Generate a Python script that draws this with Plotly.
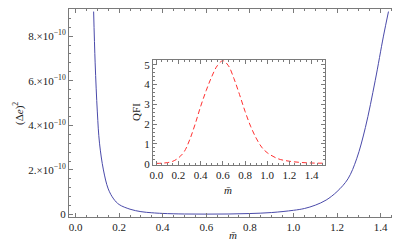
import plotly.graph_objects as go

# Main curve: (Δe)^2 vs m̄  (values in units of 1e-10)
m_main = [0.083, 0.09, 0.10, 0.11, 0.128, 0.15, 0.175, 0.20, 0.25, 0.30, 0.35, 0.40, 0.50,
          0.60, 0.70, 0.80, 0.90, 1.00, 1.05, 1.10, 1.15, 1.20, 1.25, 1.29, 1.33, 1.375,
          1.413, 1.436]
de2_e10 = [9.1, 6.8, 4.6, 3.2, 2.0, 1.15, 0.7, 0.45, 0.24, 0.13, 0.08, 0.05, 0.025,
           0.02, 0.025, 0.045, 0.09, 0.19, 0.27, 0.42, 0.65, 1.03, 1.6, 2.5, 3.9, 6.0,
           8.0, 9.1]

# Inset: QFI vs m̄
m_qfi = [0.0, 0.05, 0.1, 0.15, 0.2, 0.25, 0.3, 0.35, 0.4, 0.45, 0.5, 0.55, 0.6, 0.65,
         0.7, 0.75, 0.8, 0.85, 0.9, 0.95, 1.0, 1.1, 1.2, 1.3, 1.4, 1.5]
qfi = [0.02, 0.03, 0.06, 0.13, 0.3, 0.6, 1.2, 2.0, 2.9, 3.7, 4.4, 4.95, 5.2, 4.95,
       4.3, 3.5, 2.65, 1.9, 1.3, 0.84, 0.56, 0.25, 0.13, 0.07, 0.04, 0.03]

main_ytickvals = [0, 2e-10, 4e-10, 6e-10, 8e-10]
main_yticktext = ["0", "2.×10<sup>−10</sup>", "4.×10<sup>−10</sup>",
                  "6.×10<sup>−10</sup>", "8.×10<sup>−10</sup>"]

FONT = "Liberation Serif"
FRAME = "#7a7a7a"
TXT = "#222"

fig = go.Figure()
fig.add_trace(go.Scatter(x=m_main, y=[v * 1e-10 for v in de2_e10], mode="lines",
                         line=dict(color="#4a4aaa", width=1, shape="spline"),
                         xaxis="x", yaxis="y", showlegend=False))
fig.add_trace(go.Scatter(x=m_qfi, y=qfi, mode="lines",
                         line=dict(color="#ff3030", width=1, dash="5px,3px", shape="spline"),
                         xaxis="x2", yaxis="y2", showlegend=False))

common = dict(showline=True, linecolor=FRAME, linewidth=1, mirror="ticks",
              ticks="inside", ticklen=4, tickcolor=FRAME, showgrid=False, zeroline=False,
              tickfont=dict(family=FONT, size=11, color=TXT))

fig.update_layout(
    width=400, height=242,
    margin=dict(l=61, r=1, t=1, b=33),
    paper_bgcolor="white", plot_bgcolor="white",
    font=dict(family=FONT, size=11, color=TXT),
    xaxis=dict(range=[-0.03, 1.521], dtick=0.2, tick0=0, tickformat=".1f",
               minor=dict(dtick=0.05, ticks="inside", ticklen=2, tickcolor=FRAME),
               domain=[0, 1], **common),
    yaxis=dict(range=[-0.11e-10, 9.215e-10], tickvals=main_ytickvals,
               ticktext=main_yticktext,
               minor=dict(dtick=0.4e-10, tick0=0, ticks="inside", ticklen=2, tickcolor=FRAME),
               domain=[0, 1], **common),
    xaxis2=dict(range=[-0.03, 1.52], dtick=0.2, tick0=0, tickformat=".1f",
                minor=dict(dtick=0.05, ticks="inside", ticklen=2, tickcolor=FRAME),
                domain=[0.2485, 0.757], anchor="y2", **common),
    yaxis2=dict(range=[-0.05, 5.25], dtick=1, tick0=0,
                minor=dict(dtick=0.2, ticks="inside", ticklen=2, tickcolor=FRAME),
                domain=[0.251, 0.756], anchor="x2", **common),
    shapes=[dict(type="rect", xref="paper", yref="paper", x0=0.2485, x1=0.757,
                 y0=0.251, y1=0.756, fillcolor="white", line=dict(width=0), layer="below")],
    annotations=[
        dict(text="<i>m\u0304</i>", xref="paper", yref="paper", x=0.485, y=-0.085,
             xanchor="center", yanchor="middle",
             showarrow=False, font=dict(family=FONT, size=11, color=TXT)),
        dict(text="(Δ<i>e</i>)<sup>2</sup>", xref="paper", yref="paper", x=-0.151, y=0.5,
             xanchor="center", yanchor="middle",
             textangle=-90, showarrow=False, font=dict(family=FONT, size=11, color=TXT)),
        dict(text="<i>m\u0304</i>", xref="paper", yref="paper", x=0.47, y=0.13,
             xanchor="center", yanchor="middle",
             showarrow=False, font=dict(family=FONT, size=11, color=TXT)),
        dict(text="QFI", xref="paper", yref="paper", x=0.198, y=0.505,
             xanchor="center", yanchor="middle",
             textangle=-90, showarrow=False, font=dict(family=FONT, size=11, color=TXT)),
    ],
)

fig.write_html("out.html")
